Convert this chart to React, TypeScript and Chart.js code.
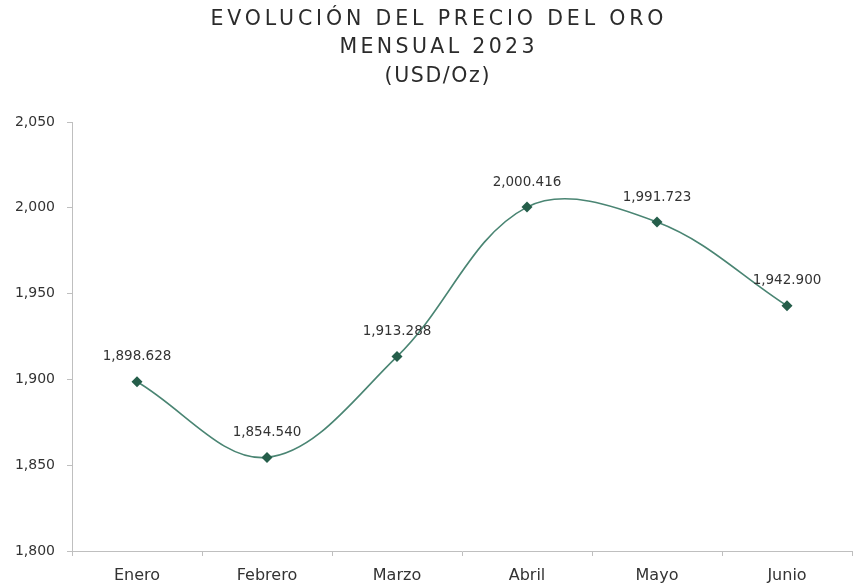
import React, { useEffect, useRef } from "react";
import { Chart, registerables } from "chart.js";
Chart.register(...registerables);

const categories = ["Enero", "Febrero", "Marzo", "Abril", "Mayo", "Junio"];
const prices = [1898.628, 1854.54, 1913.288, 2000.416, 1991.723, 1942.9];
const titleLines = ["EVOLUCIÓN DEL PRECIO DEL ORO", "MENSUAL 2023", "(USD/Oz)"];
const yMin = 1800;
const yMax = 2050;
const yStep = 50;

const FONT = '"DejaVu Sans", sans-serif';
const TEXT = "#404040";
const AXIS = "#bfbfbf";

const fmt = (v: number, d: number) =>
  v.toLocaleString("en-US", { minimumFractionDigits: d, maximumFractionDigits: d });

const titlePlugin = {
  id: "fittedTitle",
  afterDraw(chart: any) {
    const ctx = chart.ctx as CanvasRenderingContext2D;
    const widths = [453, 195, 105];
    const ys = [20, 48, 77];
    const cx = 437;
    ctx.save();
    ctx.fillStyle = "#2b2b2b";
    ctx.font = `20.5px ${FONT}`;
    ctx.textBaseline = "middle";
    ctx.textAlign = "left";
    titleLines.forEach((line, i) => {
      (ctx as any).letterSpacing = "0px";
      const base = ctx.measureText(line).width;
      const ls = (widths[i] - base) / Math.max(1, line.length - 1);
      (ctx as any).letterSpacing = `${ls}px`;
      ctx.fillText(line, cx - widths[i] / 2, ys[i]);
    });
    ctx.restore();
  },
};

const labelPlugin = {
  id: "pointLabels",
  afterDatasetsDraw(chart: any) {
    const ctx = chart.ctx as CanvasRenderingContext2D;
    const meta = chart.getDatasetMeta(0);
    ctx.save();
    ctx.fillStyle = "#333333";
    ctx.font = `13.5px ${FONT}`;
    ctx.textAlign = "center";
    ctx.textBaseline = "middle";
    meta.data.forEach((pt: any, i: number) => {
      ctx.fillText(fmt(prices[i], 3), pt.x, pt.y - 25);
    });
    ctx.restore();
  },
};

export default function App() {
  const ref = useRef<HTMLCanvasElement | null>(null);
  useEffect(() => {
    if (!ref.current) return;
    const chart = new Chart(ref.current, {
      type: "line",
      data: {
        labels: categories,
        datasets: [
          {
            data: prices,
            borderColor: "#4a8573",
            borderWidth: 1.6,
            tension: 0.36,
            pointStyle: "rectRot",
            pointRadius: 5.5,
            pointBackgroundColor: "#255e4a",
            pointBorderColor: "#255e4a",
            pointBorderWidth: 0,
            fill: false,
          },
        ],
      },
      options: {
        animation: false,
        responsive: true,
        maintainAspectRatio: false,
        layout: { padding: { top: 122, right: 9, left: 0, bottom: 0 } },
        plugins: { legend: { display: false }, title: { display: false }, tooltip: { enabled: false } },
        scales: {
          x: {
            offset: true,
            grid: { offset: true, drawOnChartArea: false, drawTicks: true, tickLength: 5, color: AXIS },
            border: { display: true, color: AXIS },
            ticks: { color: "#333333", font: { family: FONT, size: 16 }, padding: 10 },
            afterFit: (s: any) => {
              s.height = 34;
            },
          },
          y: {
            min: yMin,
            max: yMax,
            grid: { drawOnChartArea: false, drawTicks: true, tickLength: 5, color: AXIS },
            border: { display: true, color: AXIS },
            ticks: {
              stepSize: yStep,
              color: "#333333",
              font: { family: FONT, size: 14 },
              padding: 12,
              callback: (v: any) => fmt(Number(v), 0),
            },
            afterFit: (s: any) => {
              s.width = 72;
            },
          },
        },
      },
      plugins: [titlePlugin, labelPlugin],
    });
    return () => chart.destroy();
  }, []);
  return (
    <div style={{ position: "fixed", left: 0, top: 0, width: 861, height: 585, background: "#fff" }}>
      <canvas ref={ref} />
    </div>
  );
}
